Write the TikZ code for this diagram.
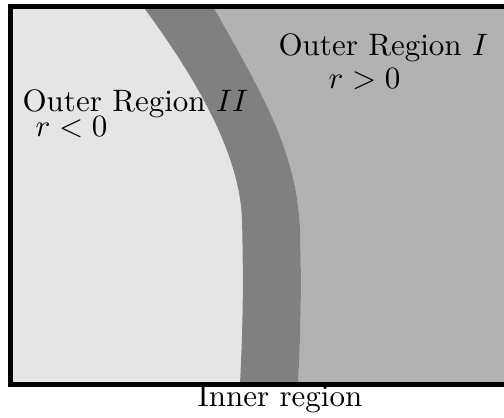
\documentclass[tikz,border=0pt]{standalone}
\begin{document}
\begin{tikzpicture}[x=0.3226pt,y=-0.3226pt,
  lbl/.style={anchor=base west,inner sep=0pt,font=\normalsize}]
\useasboundingbox (0,0) rectangle (504,417);
% left light region
\fill[gray!20] (10.5,6.5) rectangle (530,384.5);
% right region
\fill[black!30] (213,6.5) .. controls (260,90) and (297,150) .. (300,230)
  .. controls (302,300) and (300,340) .. (298,384.5)
  -- (530,384.5) -- (530,6.5) -- cycle;
% band
\fill[gray] (143,6.5) .. controls (190,70) and (240,150) .. (242,220)
  .. controls (244,300) and (242,340) .. (240,384.5)
  -- (298,384.5) .. controls (300,340) and (302,300) .. (300,230)
  .. controls (297,150) and (260,90) .. (213,6.5) -- cycle;
% border
\draw[line width=1.65pt] (530,6.5) -- (10.5,6.5) -- (10.5,384.5) -- (530,384.5);
% labels
\node[lbl] (o1) at (278,56) {Outer Region $I$};
\node[lbl] (r1) at (328,89) {$r>0$};
\node[lbl] (o2) at (22,112) {Outer Region $II$};
\node[lbl] (r2) at (35,137) {$r<0$};
\node[lbl] (in) at (197,406) {Inner region};
\end{tikzpicture}
\end{document}
